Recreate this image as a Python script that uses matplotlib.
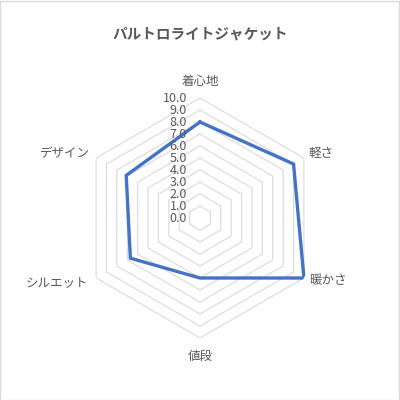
import numpy as np
import matplotlib
matplotlib.use('Agg')
import matplotlib.pyplot as plt
from matplotlib.patches import Rectangle

plt.rcParams['font.family'] = ['Noto Sans CJK JP', 'DejaVu Sans']

title = 'パルトロライトジャケット'
categories = ['着心地', '軽さ', '暖かさ', '値段', 'シルエット', 'デザイン']
values = [8, 9, 10, 5, 6.7, 7.1]
tick_values = [0, 1, 2, 3, 4, 5, 6, 7, 8, 9, 10]

text_color = '#595959'
grid_color = '#d9d9d9'
line_color = '#4472c4'

n = len(categories)
angles = np.arange(n) * 2 * np.pi / n

fig = plt.figure(figsize=(4, 4), dpi=100)
fig.patches.append(Rectangle((0.001, 0.001), 0.997, 0.997, transform=fig.transFigure,
                             fill=False, edgecolor=grid_color, linewidth=1))

ax = fig.add_axes([0.2, 0.155, 0.6, 0.6], projection='polar')
ax.set_theta_offset(np.pi / 2)
ax.set_theta_direction(-1)
ax.set_ylim(0, 10)
ax.grid(False)
ax.spines['polar'].set_visible(False)
ax.set_xticks([])
ax.set_yticks([])
ax.patch.set_alpha(0)

# hexagon gridlines
ring_angles = np.append(angles, angles[0])
for r in tick_values[1:]:
    ax.plot(ring_angles, [r] * (n + 1), color=grid_color, linewidth=0.8, zorder=1)

# data line
ax.plot(ring_angles, values + [values[0]], color=line_color, linewidth=2.4,
        solid_joinstyle='miter', zorder=3)

# value axis labels
for r in tick_values:
    ax.annotate(f'{r:.1f}', xy=(0, r), xytext=(-9.5, 0), textcoords='offset points',
                ha='right', va='center', fontsize=9, color=text_color)

# category labels
offsets = [(0, 7, 'center', 'bottom'), (3.5, 3, 'left', 'center'), (3.5, -1.5, 'left', 'center'),
           (0, -8.5, 'center', 'top'), (-5.5, -3, 'right', 'center'), (-4.5, 3, 'right', 'center')]
for a, lab, (dx, dy, ha, va) in zip(angles, categories, offsets):
    ax.annotate(lab, xy=(a, 10), xytext=(dx, dy), textcoords='offset points',
                ha=ha, va=va, fontsize=9, color=text_color)

fig.text(0.5, 0.917, title, ha='center', va='center', fontsize=10.5,
         fontweight='bold', color=text_color)

fig.savefig('out.png', dpi=100)
